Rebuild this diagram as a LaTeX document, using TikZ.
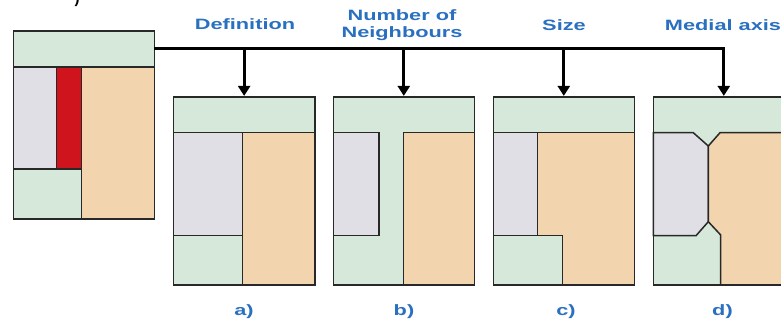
\documentclass[tikz,border=0pt]{standalone}
\usepackage{fontspec}
\setmainfont{Liberation Sans}
\usetikzlibrary{arrows.meta}
\definecolor{grn}{RGB}{213,232,218}
\definecolor{gry}{RGB}{224,223,230}
\definecolor{org}{RGB}{242,212,174}
\definecolor{rd}{RGB}{208,20,30}
\definecolor{edge}{RGB}{40,40,40}
\definecolor{lbl}{RGB}{42,112,192}
\tikzset{
  reg/.style={draw=edge, line width=1.5pt, line join=miter},
  outline/.style={draw=edge, line width=1.6pt, rectangle, inner sep=0pt, fill=none},
  bus/.style={draw=black, line width=3pt},
  arr/.style={draw=black, line width=3pt, -{Triangle[width=12pt,length=10pt]}},
  head/.style={text=lbl, font=\bfseries\fontsize{15}{19}\selectfont, inner sep=0pt, align=center},
}
\newcommand{\wide}[1]{\scalebox{1.45}[1]{#1}}
\begin{document}
\begin{tikzpicture}[x=1pt,y=-1pt]
\useasboundingbox (0,0) rectangle (781,322);
\clip (0,0) rectangle (781,322);
\fill[white] (0,0) rectangle (781,322);
% cropped fragment at top
\node[anchor=south, inner sep=0pt, font=\bfseries\fontsize{15}{19}\selectfont] (frag) at (77,7) {)};
% source figure
\filldraw[reg, fill=grn] (13.3,30.7) rectangle (154.3,66.7);
\filldraw[reg, fill=gry] (13.3,66.7) rectangle (56.7,169);
\filldraw[reg, fill=rd] (56.7,66.7) rectangle (81.7,169);
\filldraw[reg, fill=grn] (13.3,169) rectangle (81.7,219);
\filldraw[reg, fill=org] (81.7,66.7) rectangle (154.3,219);
\node[outline, minimum width=141pt, minimum height=36pt] (band) at (83.8,48.7) {};
\node[outline, minimum width=141pt, minimum height=188.3pt] (src) at (83.8,124.85) {};
% box a
\filldraw[reg, fill=grn] (173.3,96.7) rectangle (315,132.7);
\filldraw[reg, fill=gry] (173.3,132.7) rectangle (242.7,235.7);
\filldraw[reg, fill=grn] (173.3,235.7) rectangle (242.7,285);
\filldraw[reg, fill=org] (242.7,132.7) rectangle (315,285);
\node[outline, minimum width=141.7pt, minimum height=188.3pt] (a) at (244.15,190.85) {};
% box b
\fill[grn] (333.3,96.7) rectangle (474.3,285);
\draw[reg] (333.3,132.7) -- (379,132.7);
\filldraw[reg, fill=gry] (333.3,132.7) rectangle (379,235.7);
\filldraw[reg, fill=org] (403.3,132.7) rectangle (474.3,285);
\node[outline, minimum width=141pt, minimum height=188.3pt] (b) at (403.8,190.85) {};
% box c
\filldraw[reg, fill=grn] (493.3,96.7) rectangle (634.3,132.7);
\filldraw[reg, fill=gry] (493.3,132.7) rectangle (537.7,235.7);
\filldraw[reg, fill=grn] (493.3,235.7) rectangle (562.3,285);
\filldraw[reg, fill=org] (537.7,132.7) -- (634.3,132.7) -- (634.3,285) -- (562.3,285) -- (562.3,235.7) -- (537.7,235.7) -- cycle;
\node[outline, minimum width=141pt, minimum height=188.3pt] (c) at (563.8,190.85) {};
% box d
\fill[grn] (653.3,96.7) rectangle (794.3,285);
\filldraw[reg, fill=gry] (653.3,132.7) -- (693.3,132.7) -- (708.3,146) -- (708.3,221.7) -- (696,235.7) -- (653.3,235.7) -- cycle;
\filldraw[reg, fill=org] (720,132.7) -- (794.3,132.7) -- (794.3,285) -- (720.7,285) -- (720.7,235) -- (708.3,221.7) -- (708.3,146) -- cycle;
\node[outline, minimum width=141pt, minimum height=188.3pt] (d) at (723.8,190.85) {};
% connectors
\coordinate (busend) at (d.north |- band.east);
\draw[bus, line cap=rect] (band.east) -- (busend);
\draw[arr] (a.north |- band.east) -- (a.north);
\draw[arr] (b.north |- band.east) -- (b.north);
\draw[arr] (c.north |- band.east) -- (c.north);
\draw[arr] (busend) -- (d.north);
% headings
\node[head] (h1) at (245,24) {\wide{Definition}};
\node[head] (h2a) at (402,15) {\wide{Number of}};
\node[head] (h2b) at (402,34) {\wide{Neighbours}};
\node[head] (h3) at (564,25) {\wide{Size}};
\node[head] (h4) at (723,25) {\wide{Medial axis}};
% sub labels
\node[head] (la) at (244,311.7) {\wide{a)}};
\node[head] (lb) at (404,311.7) {\wide{b)}};
\node[head] (lc) at (566,311.7) {\wide{c)}};
\node[head] (ld) at (722.5,311.7) {\wide{d)}};
\end{tikzpicture}
\end{document}
